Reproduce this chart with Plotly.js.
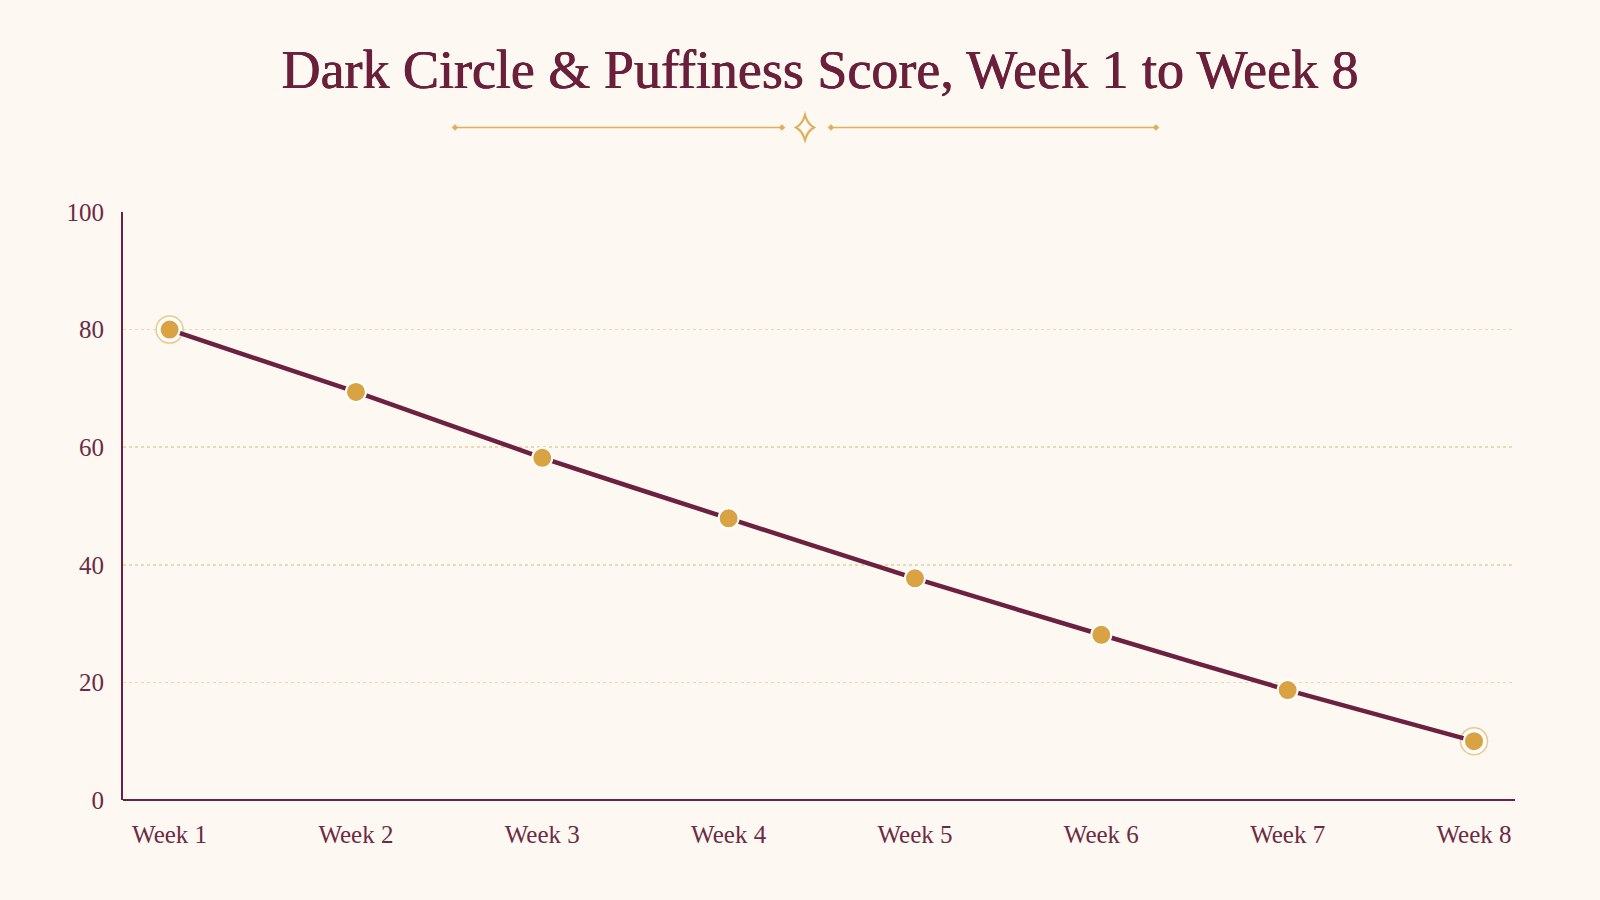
<!DOCTYPE html>
<html>
<head>
<meta charset="utf-8">
<script src="https://cdn.plot.ly/plotly-3.0.1.min.js"></script>
<style>
  html, body { margin: 0; padding: 0; background: #fdf8f1; }
  #chart { width: 1600px; height: 900px; }
</style>
</head>
<body>
<div id="chart"></div>
<script>
// Weekly scores
const weeks = ["Week 1", "Week 2", "Week 3", "Week 4", "Week 5", "Week 6", "Week 7", "Week 8"];
const scores = [80, 69.4, 58.2, 47.9, 37.7, 28.1, 18.7, 10];
const yTicks = [0, 20, 40, 60, 80, 100];

// Start and end points get a soft ring
const ringWeeks = [weeks[0], weeks[weeks.length - 1]];
const ringScores = [scores[0], scores[scores.length - 1]];

const W = 1600, H = 900;
const margin = { l: 123, r: 85, t: 212, b: 100 };
const plotW = W - margin.l - margin.r;
const plotH = H - margin.t - margin.b;
const px = x => (x - margin.l) / plotW;
const py = y => (H - margin.b - y) / plotH;

const maroon = "#6c2140";
const gold = "#d9a243";
const ornament = "#ddb05c";
const serif = "Liberation Serif, serif";
const titleColor = "#6a1f3a";

// Decorative rule under the title
const ruleY = 127.5;
const shapes = [];
function hline(x0, x1) {
  shapes.push({ type: "line", xref: "paper", yref: "paper",
    x0: px(x0), x1: px(x1), y0: py(ruleY), y1: py(ruleY),
    line: { color: ornament, width: 1.6 } });
}
function dot(cx, r) {
  const p = `M ${px(cx - r)} ${py(ruleY)} L ${px(cx)} ${py(ruleY - r)} L ${px(cx + r)} ${py(ruleY)} L ${px(cx)} ${py(ruleY + r)} Z`;
  shapes.push({ type: "path", xref: "paper", yref: "paper", path: p,
    fillcolor: ornament, line: { color: ornament, width: 0.5 } });
}
hline(455, 782); hline(831, 1156);
dot(455, 3); dot(782, 3); dot(831, 3); dot(1156, 3);
// four-point star outline with softly curved sides
(function () {
  const cx = 805, cy = ruleY, hw = 9, hh = 12.5, c = 0.28;
  const P = (x, y) => `${px(x)} ${py(y)}`;
  const p = `M ${P(cx, cy - hh)}` +
    ` Q ${P(cx + hw * c, cy - hh * c)} ${P(cx + hw, cy)}` +
    ` Q ${P(cx + hw * c, cy + hh * c)} ${P(cx, cy + hh)}` +
    ` Q ${P(cx - hw * c, cy + hh * c)} ${P(cx - hw, cy)}` +
    ` Q ${P(cx - hw * c, cy - hh * c)} ${P(cx, cy - hh)} Z`;
  shapes.push({ type: "path", xref: "paper", yref: "paper", path: p,
    fillcolor: "rgba(0,0,0,0)", line: { color: ornament, width: 2.2 } });
})();

const traces = [
  {
    x: ringWeeks, y: ringScores, type: "scatter", mode: "markers",
    marker: { size: 27, color: "rgba(255,255,255,0.7)", line: { color: "#ecc98e", width: 1.5 } },
    hoverinfo: "skip", showlegend: false
  },
  {
    x: weeks, y: scores, type: "scatter", mode: "lines+markers",
    line: { color: maroon, width: 4.5, shape: "spline", smoothing: 0.6 },
    marker: { size: 20, color: gold, line: { color: "#ffffff", width: 2 } },
    showlegend: false
  }
];

const layout = {
  width: W, height: H,
  paper_bgcolor: "#fdf8f1",
  plot_bgcolor: "#fdf8f1",
  margin: margin,
  title: {
    text: "Dark Circle & Puffiness Score, Week 1 to Week 8",
    font: {
      family: serif, size: 54, color: titleColor,
      shadow: `0.5px 0 0 ${titleColor}, -0.3px 0 0 ${titleColor}`
    },
    x: 820 / W, xanchor: "center", xref: "container",
    y: 1 - 69 / H, yanchor: "middle", yref: "container"
  },
  xaxis: {
    type: "category",
    categoryorder: "array",
    categoryarray: weeks,
    range: [-0.25, 7.22],
    showgrid: false, zeroline: false,
    showline: false, ticks: "",
    tickfont: { family: serif, size: 25, color: "#6c2a45" },
    ticklabelstandoff: 17
  },
  yaxis: {
    range: [0, 100],
    tickvals: yTicks,
    showgrid: true, gridcolor: "#e8dab4", griddash: "dot", gridwidth: 1.5,
    zeroline: false,
    showline: true, linecolor: maroon, linewidth: 2,
    ticks: "",
    tickfont: { family: serif, size: 25, color: "#6c2a45" },
    ticklabelstandoff: 12
  },
  shapes: shapes.concat([
    { type: "line", xref: "paper", yref: "paper", x0: 0, x1: 1, y0: 0, y1: 0,
      line: { color: maroon, width: 2 } }
  ])
};

Plotly.newPlot("chart", traces, layout, { displayModeBar: false, staticPlot: true });
</script>
</body>
</html>
